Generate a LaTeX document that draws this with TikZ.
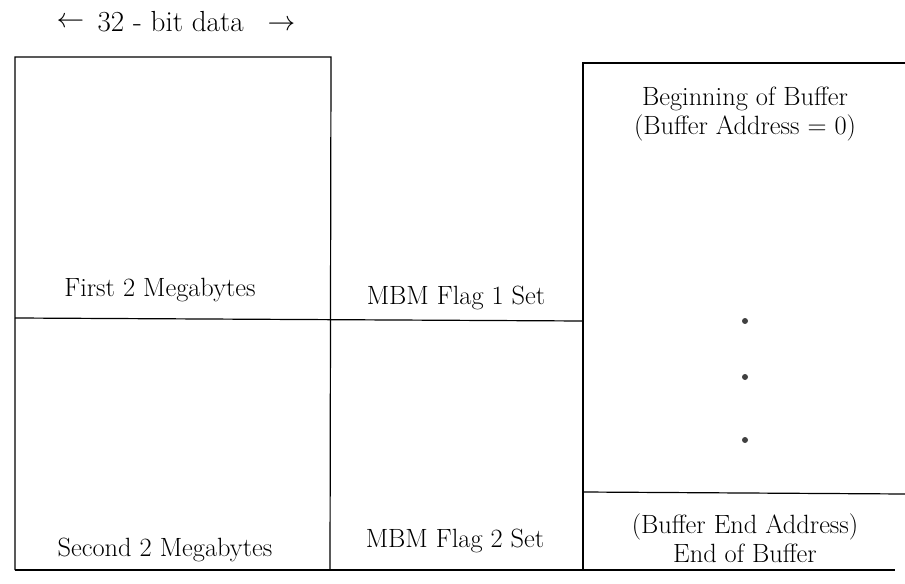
\documentclass[tikz,border=0pt]{standalone}
\usepackage{fontspec}
\begin{document}
\begin{tikzpicture}[x=0.75pt,y=-0.75pt,
  lbl/.style={font=\fontsize{19.8}{22}\selectfont, inner sep=0pt, align=center},
  edge/.style={line width=0.9pt},
  dot/.style={circle, fill=black!75, inner sep=0pt, minimum size=4.5pt}]
\useasboundingbox (0,0) rectangle (905,584);
% coordinates
\coordinate (tl) at (15,57);
\coordinate (tm) at (331,57);
\coordinate (bl) at (15,570);
\coordinate (bm) at (330,570);
\coordinate (ml) at (15,318);
\coordinate (mr) at (583,321);
\coordinate (rt) at (583,63);
\coordinate (rtr) at (905,63);
\coordinate (rb) at (583,570);
\coordinate (brr) at (895,570);
\coordinate (rm) at (583,492);
\coordinate (rmr) at (905,494);
% boxes
\draw[edge] (bl) -- (tl) -- (tm) -- (bm);
\draw[edge] (bl) -- (brr);
\draw[edge] (ml) -- (mr);
\draw[edge] (rtr) -- (rt) -- (rb);
\draw[edge] (rm) -- (rmr);
% labels
\node[lbl, font=\fontsize{21.8}{24}\selectfont] (hdr) at (176,22) {\raisebox{3pt}{$\leftarrow$}\hspace{10pt}32 - bit data\hspace{18pt}\raisebox{1pt}{$\rightarrow$}};
\node[lbl] (first) at (160,290) {First 2 Megabytes};
\node[lbl] (flag1) at (456,298) {MBM Flag 1 Set};
\node[lbl] (beg) at (745,114) {Beginning of Buffer\\(Buffer Address = 0)};
\node[dot] (d1) at (745,321) {};
\node[dot] (d2) at (745,377) {};
\node[dot] (d3) at (745,440) {};
\node[lbl] (second) at (165,550) {Second 2 Megabytes};
\node[lbl] (flag2) at (455,541) {MBM Flag 2 Set};
\node[lbl] (endb) at (745,538) {(Buffer End Address)\\End of Buffer};
\end{tikzpicture}
\end{document}
